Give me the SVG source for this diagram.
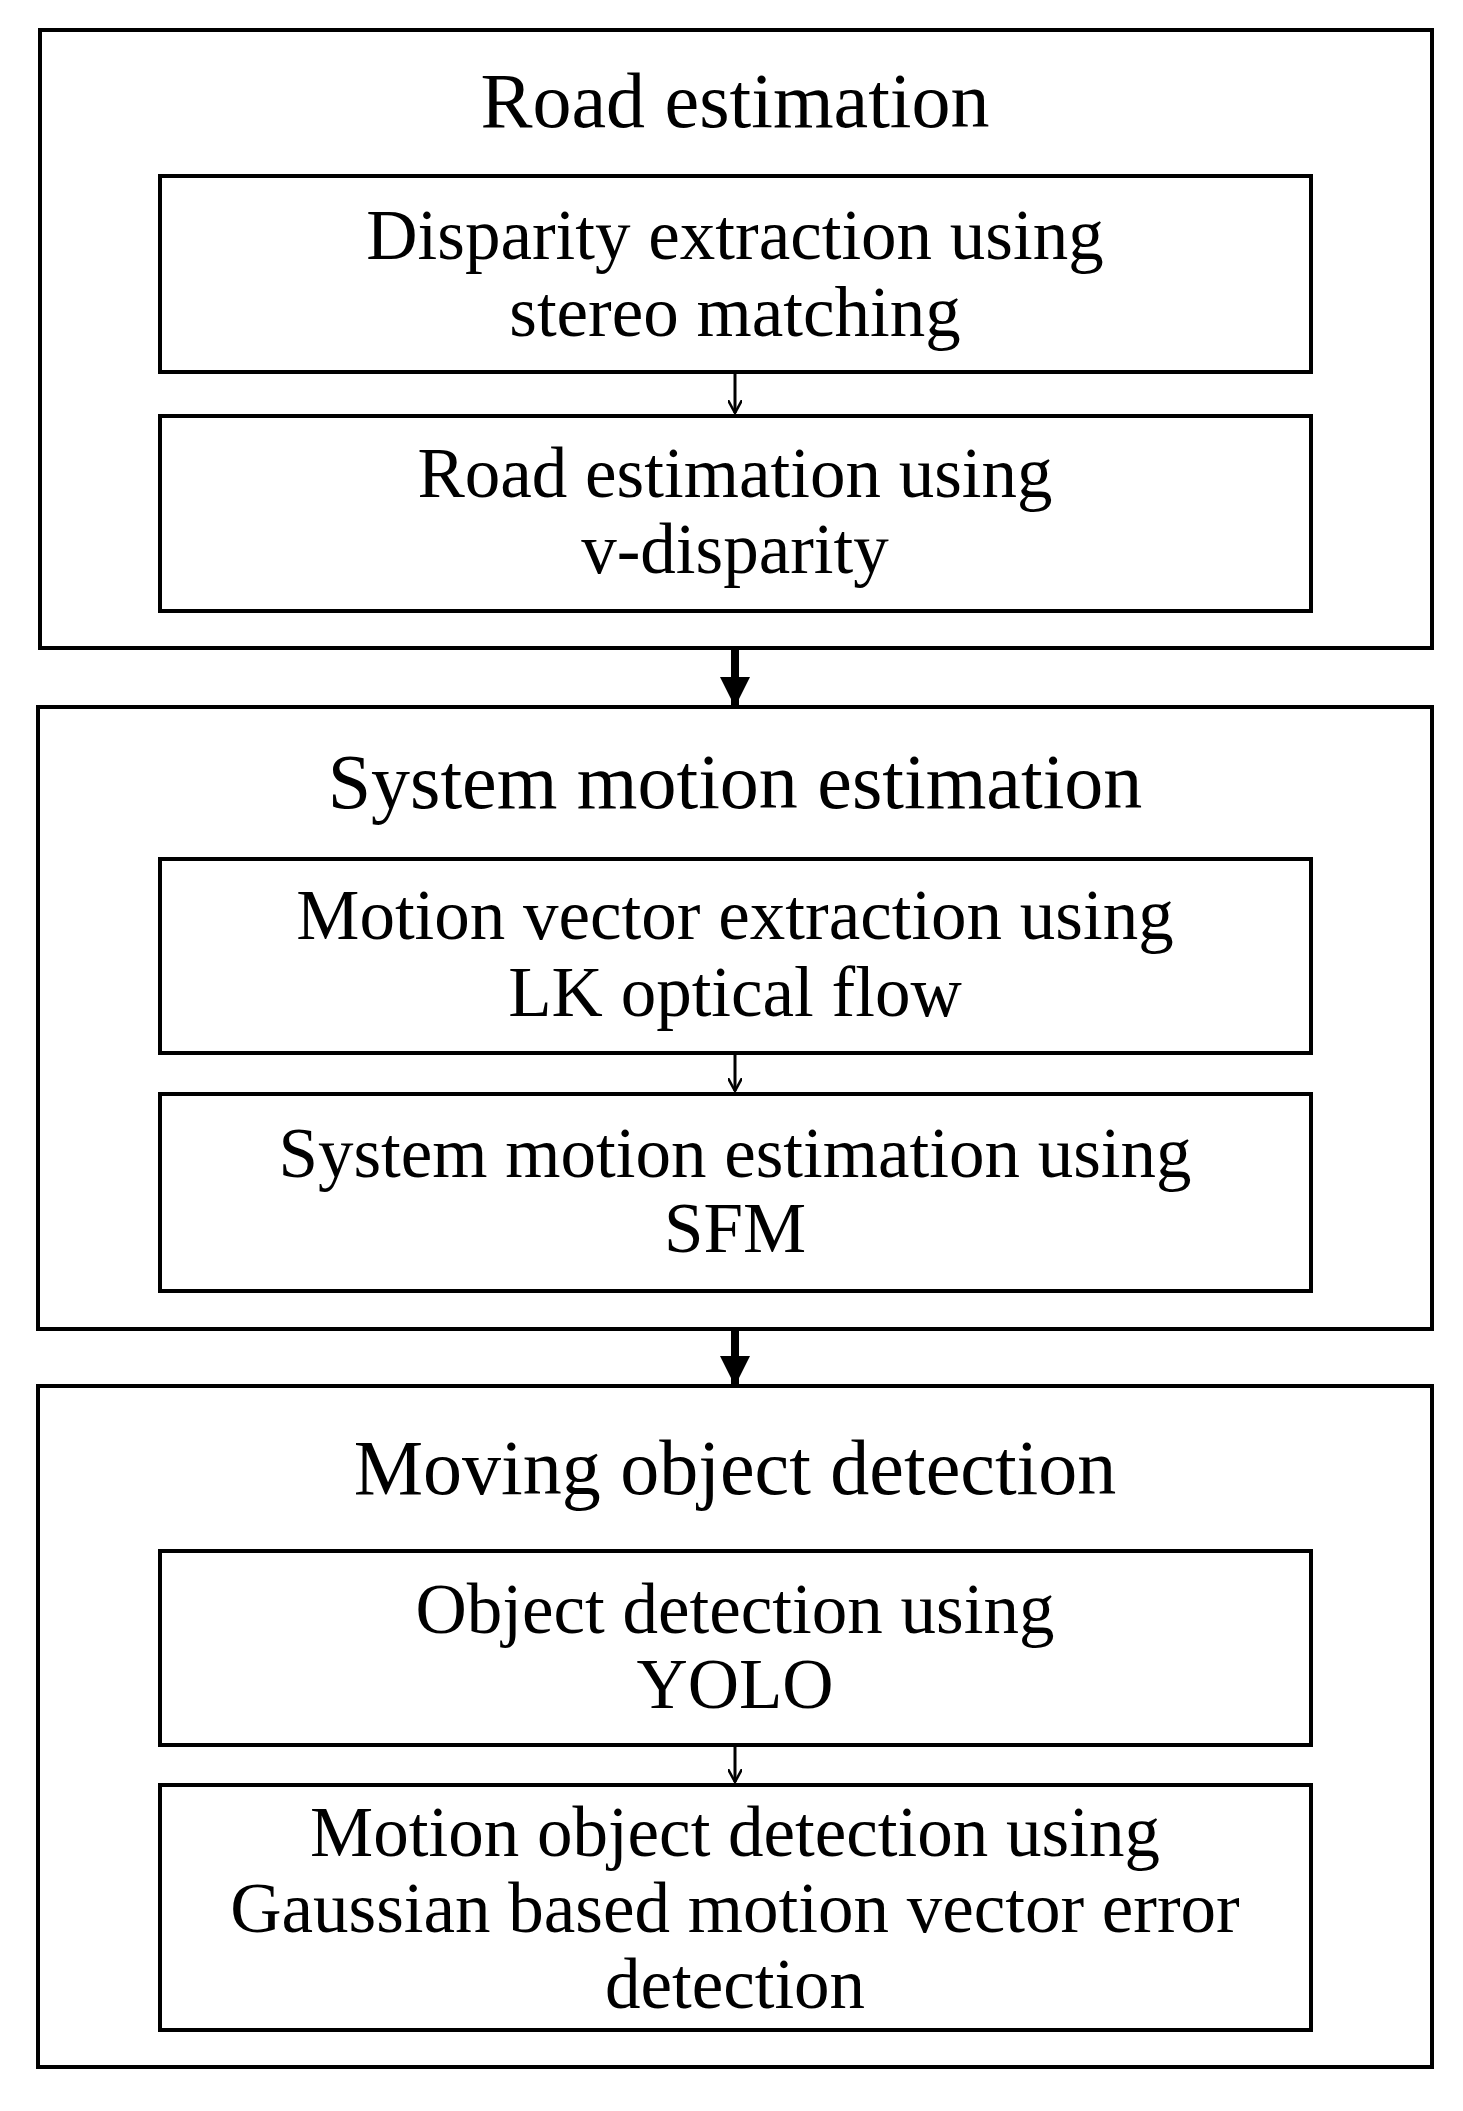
<svg xmlns="http://www.w3.org/2000/svg" width="1463" height="2111" viewBox="0 0 1463 2111">
<style>
rect{fill:none;stroke:#000}
.o{stroke-width:4}
.i{stroke-width:4}
text{font-family:"Liberation Serif","DejaVu Serif",serif;text-anchor:middle;fill:#000}
.t{font-size:78px}
.s{font-size:71px}
</style>
<defs>
<marker id="sa" markerWidth="14" markerHeight="14" refX="13" refY="7" orient="auto" markerUnits="userSpaceOnUse"><path d="M0,0 L13,7 L0,14" fill="none" stroke="#000" stroke-width="2.5"/></marker>
<marker id="ba" markerWidth="30" markerHeight="30" refX="28" refY="15" orient="auto" markerUnits="userSpaceOnUse"><path d="M0,0 L30,15 L0,30 Z" fill="#000"/></marker>
</defs>
<rect width="1463" height="2111" style="fill:#fff;stroke:none"/>
<g id="g1"><rect class="o" x="40" y="30" width="1392" height="618"/><text class="t" x="735" y="127">Road estimation</text></g>
<g id="n1"><rect class="i" x="160" y="176" width="1151" height="196"/><text class="s" x="735" y="259">Disparity extraction using</text><text class="s" x="735" y="336">stereo matching</text></g>
<g id="n2"><rect class="i" x="160" y="416" width="1151" height="195"/><text class="s" x="735" y="497">Road estimation using</text><text class="s" x="735" y="573">v-disparity</text></g>
<g id="g2"><rect class="o" x="38" y="707" width="1394" height="622"/><text class="t" x="735" y="808">System motion estimation</text></g>
<g id="n3"><rect class="i" x="160" y="859" width="1151" height="194"/><text class="s" x="735" y="939">Motion vector extraction using</text><text class="s" x="735" y="1016">LK optical flow</text></g>
<g id="n4"><rect class="i" x="160" y="1094" width="1151" height="197"/><text class="s" x="735" y="1177">System motion estimation using</text><text class="s" x="735" y="1252">SFM</text></g>
<g id="g3"><rect class="o" x="38" y="1386" width="1394" height="681"/><text class="t" x="735" y="1494">Moving object detection</text></g>
<g id="n5"><rect class="i" x="160" y="1551" width="1151" height="194"/><text class="s" x="735" y="1633">Object detection using</text><text class="s" x="735" y="1708">YOLO</text></g>
<g id="n6"><rect class="i" x="160" y="1785" width="1151" height="245"/><text class="s" x="735" y="1856">Motion object detection using</text><text class="s" x="735" y="1932">Gaussian based motion vector error</text><text class="s" x="735" y="2008">detection</text></g>
<g id="connectors" stroke="#000" fill="none">
<line x1="735" y1="374" x2="735" y2="413" stroke-width="3" marker-end="url(#sa)"/>
<line x1="735" y1="1055" x2="735" y2="1091" stroke-width="3" marker-end="url(#sa)"/>
<line x1="735" y1="1747" x2="735" y2="1782" stroke-width="3" marker-end="url(#sa)"/>
<line x1="735" y1="650" x2="735" y2="705" stroke-width="8" marker-end="url(#ba)"/>
<line x1="735" y1="1331" x2="735" y2="1384" stroke-width="8" marker-end="url(#ba)"/>
</g>
</svg>
